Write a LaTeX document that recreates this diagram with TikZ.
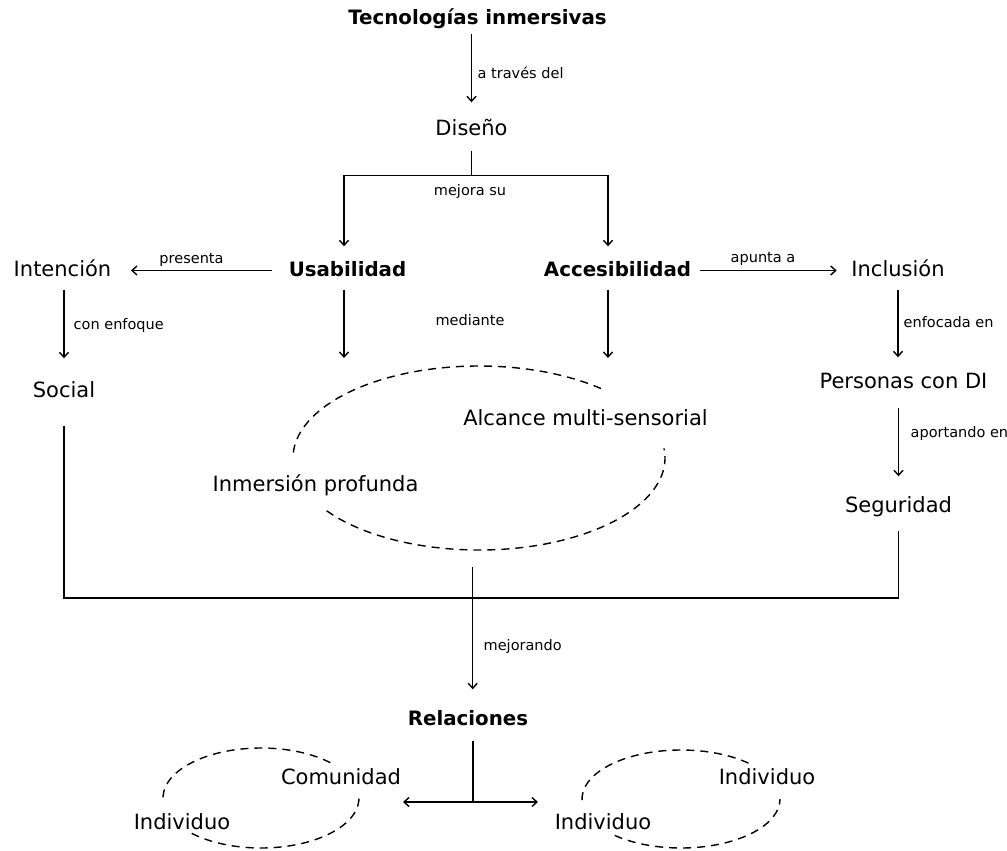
\documentclass[tikz,border=0pt]{standalone}
\usepackage{fontspec}
\setmainfont{DejaVu Sans}
\usetikzlibrary{arrows.meta}
\begin{document}
\begin{tikzpicture}[x=1pt,y=-1pt,
  line width=1.4pt,
  txt/.style={anchor=base, inner sep=0pt, text height=15pt, text depth=4pt,
              font=\fontsize{21}{25}\selectfont},
  hd/.style={txt, font=\fontsize{19.8}{24}\selectfont\bfseries},
  lbl/.style={inner sep=0pt, font=\fontsize{14.5}{17}\selectfont},
  arr/.style={-{Straight Barb[length=5pt,width=9pt]}},
  ring/.style={dash pattern=on 8pt off 6pt},
]
\useasboundingbox (0,0) rectangle (1007,851);

% centres of the dashed groupings
\coordinate (ell) at (479,458);
\coordinate (ellL) at (261,798);
\coordinate (ellR) at (681,799);

% dashed groupings, left open where their labels sit
\draw[ring] ([shift={(49:186pt and 92pt)}]ell)
  arc[start angle=49, end angle=180, x radius=186pt, y radius=92pt];
\draw[ring] ([shift={(215:186pt and 92pt)}]ell)
  arc[start angle=215, end angle=366, x radius=186pt, y radius=92pt];
\draw[ring] ([shift={(45:98pt and 50pt)}]ellL)
  arc[start angle=45, end angle=184, x radius=98pt, y radius=50pt];
\draw[ring] ([shift={(225:98pt and 50pt)}]ellL)
  arc[start angle=225, end angle=363, x radius=98pt, y radius=50pt];
\draw[ring] ([shift={(47:99pt and 49pt)}]ellR)
  arc[start angle=47, end angle=183, x radius=99pt, y radius=49pt];
\draw[ring] ([shift={(228:99pt and 49pt)}]ellR)
  arc[start angle=228, end angle=360, x radius=99pt, y radius=49pt];

% concepts
\node[hd]  (tec) at (477.5,25)  {Tecnologías inmersivas};
\node[txt] (dis) at (471.5,135) {Diseño};
\node[hd]  (usa) at (347.5,276) {Usabilidad};
\node[hd]  (acc) at (617.5,276) {Accesibilidad};
\node[txt] (int) at (62.5,276)  {Intención};
\node[txt] (inc) at (898,276)   {Inclusión};
\node[txt] (soc) at (64,397)    {Social};
\node[txt] (per) at (903.5,388) {Personas con DI};
\node[txt] (seg) at (898.5,512) {Seguridad};
\node[txt] (alc) at (585.5,425) {Alcance multi-sensorial};
\node[txt] (inm) at (315.5,491) {Inmersión profunda};
\node[hd]  (rel) at (468,725)   {Relaciones};
\node[txt] (com) at (341,784)   {Comunidad};
\node[txt] (ia)  at (182,829)   {Individuo};
\node[txt] (ib)  at (767,784)   {Individuo};
\node[txt] (ic)  at (603,829)   {Individuo};

% connectors
\draw[arr, shorten <=4pt, shorten >=17pt] (tec.south -| dis.north) -- (dis.north);
\coordinate (fork) at ([yshift=-36pt]dis.south);
\draw ([yshift=-11pt]dis.south) -- (fork);
\draw[arr] (fork) -| ([xshift=-3.5pt,yshift=14pt]usa.north);
\draw[arr] (fork) -| ([xshift=-9.5pt,yshift=14pt]acc.north);

\coordinate (etop) at (479,358);
\draw[arr, shorten <=9pt] ([xshift=-3.5pt]usa.south) -- ([xshift=-3.5pt]usa.south |- etop);
\draw[arr, shorten <=9pt] ([xshift=-9.5pt]acc.south) -- ([xshift=-9.5pt]acc.south |- etop);

\draw[arr, shorten <=16pt, shorten >=19pt] (usa.west) -- (int.east);
\draw[arr, shorten <=8pt, shorten >=14pt] (acc.east) -- (inc.west);
\draw[arr, shorten <=9pt, shorten >=23pt] (int.south -| soc.north) -- (soc.north);
\draw[arr, shorten <=9pt, shorten >=15pt] (inc.south) -- (inc.south |- per.north);
\draw[arr, shorten <=15pt, shorten >=20pt] (seg.north |- per.south) -- (seg.north);

\coordinate (join) at (472.7,598);
\coordinate (ebot) at (479,567);
\draw ([yshift=-24pt]soc.south) |- (join) -| ([yshift=-14pt]seg.south);
\draw (join |- ebot) -- (join);
\draw[arr, shorten >=20pt] (join) -- (join |- rel.north);

\coordinate (tee) at (473,802);
\coordinate (lt) at (403,802);
\coordinate (rt) at (538,802);
\draw ([yshift=-11pt]rel.south -| tee) -- (tee);
\draw[arr] (tee) -- (lt);
\draw[arr] (tee) -- (rt);

% connector labels
\node[lbl, anchor=base west] (l1) at (477,78)  {a través del};
\node[lbl, anchor=base]      (l2) at (470,195) {mejora su};
\node[lbl, anchor=base]      (l3) at (191.5,263) {presenta};
\node[lbl, anchor=base]      (l4) at (763,262) {apunta a};
\node[lbl, anchor=base west] (l5) at (73,329)  {con enfoque};
\node[lbl, anchor=base]      (l6) at (470,325) {mediante};
\node[lbl, anchor=base west] (l7) at (903,327) {enfocada en};
\node[lbl, anchor=base west] (l8) at (910,437) {aportando en};
\node[lbl, anchor=base west] (l9) at (483,650) {mejorando};
\end{tikzpicture}
\end{document}
